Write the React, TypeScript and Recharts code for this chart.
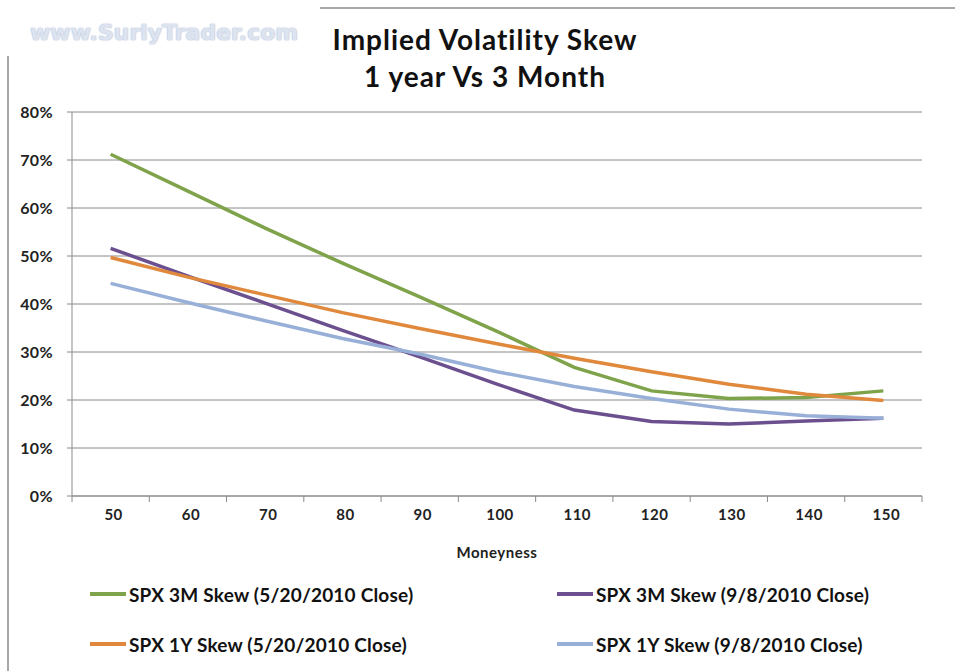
import React from "react";
import { LineChart, Line, XAxis, YAxis, CartesianGrid, Legend, Label } from "recharts";

const moneyness = [50, 60, 70, 80, 90, 100, 110, 120, 130, 140, 150];
const spx3mMay = [71.2, 63.5, 55.8, 48.5, 41.5, 34.3, 26.8, 21.9, 20.3, 20.5, 21.9];
const spx3mSep = [51.6, 45.8, 40.2, 34.5, 29.0, 23.3, 17.9, 15.5, 15.0, 15.6, 16.2];
const spx1yMay = [49.7, 45.6, 41.9, 38.2, 34.9, 31.7, 28.7, 25.9, 23.3, 21.2, 19.9];
const spx1ySep = [44.3, 40.3, 36.5, 32.8, 29.6, 25.9, 22.8, 20.3, 18.1, 16.7, 16.2];
const yTicks = [0, 10, 20, 30, 40, 50, 60, 70, 80];

const seriesNames = [
  "SPX 3M Skew (5/20/2010 Close)",
  "SPX 3M Skew (9/8/2010 Close)",
  "SPX 1Y Skew (5/20/2010 Close)",
  "SPX 1Y Skew (9/8/2010 Close)",
];
const seriesColors = ["#7fa34a", "#6b4f8f", "#e0893d", "#98b0d8"];

const data = moneyness.map((m, i) => ({
  m,
  a: spx3mMay[i],
  b: spx3mSep[i],
  c: spx1yMay[i],
  d: spx1ySep[i],
}));

const FONT = "Lato, 'Open Sans', sans-serif";
const AXIS = "#8a8a8a";
const HALF = 38.64;

const XTick = (props: any) => {
  const { x, y, payload, index } = props;
  const isLast = index === moneyness.length - 1;
  return (
    <g>
      <line x1={x - HALF} y1={496} x2={x - HALF} y2={502} stroke={AXIS} strokeWidth={1} />
      {isLast && <line x1={x + HALF} y1={496} x2={x + HALF} y2={502} stroke={AXIS} strokeWidth={1} />}
      <text
        x={x + 3}
        y={y + 16}
        textAnchor="middle"
        fontFamily={FONT}
        fontWeight={700}
        fontSize={15}
        letterSpacing={0.5}
        fill="#222"
      >
        {payload.value}
      </text>
    </g>
  );
};

const LegendContent = () => {
  const pos = [
    { left: 90, top: 584 },
    { left: 557, top: 584 },
    { left: 90, top: 634 },
    { left: 557, top: 634 },
  ];
  return (
    <div style={{ position: "relative", width: 955, height: 100 }}>
      {seriesNames.map((n, i) => (
        <div
          key={n}
          style={{
            position: "absolute",
            left: pos[i].left,
            top: pos[i].top - 570,
            height: 20,
            display: "flex",
            alignItems: "center",
            fontFamily: FONT,
            fontWeight: 700,
            fontSize: 19,
            letterSpacing: 0.2,
            color: "#111",
            whiteSpace: "nowrap",
          }}
        >
          <span style={{ display: "inline-block", width: 36, height: 4, background: seriesColors[i], marginRight: 3 }} />
          {n}
        </div>
      ))}
    </div>
  );
};

export default function App() {
  return (
    <div style={{ position: "absolute", left: 0, top: 0, width: 955, height: 671, background: "#fff", overflow: "hidden" }}>
      <div style={{ position: "absolute", left: 320, top: 7, width: 635, height: 2, background: "#a8a8a8" }} />
      <div style={{ position: "absolute", left: 7, top: 56, width: 2, height: 615, background: "#a8a8a8" }} />
      <div
        style={{
          position: "absolute",
          left: 30,
          top: 20,
          fontFamily: "'DejaVu Sans', sans-serif",
          fontWeight: 700,
          fontSize: 22,
          color: "#dde4f0",
          textShadow: "0 0 2px #b8c4dc, 0 0 1px #aab8d4",
          letterSpacing: 0,
        }}
      >
        www.SurlyTrader.com
      </div>
      <div
        style={{
          position: "absolute",
          left: 285,
          top: 21,
          width: 400,
          textAlign: "center",
          fontFamily: FONT,
          fontWeight: 700,
          fontSize: 28,
          letterSpacing: 1,
          lineHeight: "37px",
          color: "#111",
        }}
      >
        <div>Implied Volatility Skew</div>
        <div>1 year Vs 3 Month</div>
      </div>
      <div style={{ position: "absolute", left: 0, top: 0 }}>
        <LineChart width={955} height={671} data={data} margin={{ top: 112, right: 33, bottom: 145, left: 12 }}>
          <CartesianGrid vertical={false} stroke={AXIS} strokeWidth={1} strokeDasharray="" />
          <XAxis
            dataKey="m"
            type="category"
            padding={{ left: HALF, right: HALF }}
            axisLine={{ stroke: AXIS }}
            tickLine={false}
            tick={<XTick />}
            height={30}
            interval={0}
          >
            <Label
              value="Moneyness"
              position="bottom"
              offset={21}
              style={{ fontFamily: FONT, fontWeight: 700, fontSize: 15, letterSpacing: 0.5, fill: "#222" }}
            />
          </XAxis>
          <YAxis
            width={60}
            domain={[0, 80]}
            ticks={yTicks}
            tickFormatter={(v: number) => `${v}%`}
            axisLine={{ stroke: AXIS }}
            tickLine={{ stroke: AXIS }}
            tickSize={5}
            tickMargin={14}
            tick={{ fontFamily: FONT, fontWeight: 700, fontSize: 16, letterSpacing: 0.4, fill: "#222" }}
            interval={0}
          />
          <Line dataKey="a" name={seriesNames[0]} stroke={seriesColors[0]} strokeWidth={3.5} dot={false} isAnimationActive={false} />
          <Line dataKey="b" name={seriesNames[1]} stroke={seriesColors[1]} strokeWidth={3.5} dot={false} isAnimationActive={false} />
          <Line dataKey="c" name={seriesNames[2]} stroke={seriesColors[2]} strokeWidth={3.5} dot={false} isAnimationActive={false} />
          <Line dataKey="d" name={seriesNames[3]} stroke={seriesColors[3]} strokeWidth={3.5} dot={false} isAnimationActive={false} />
          <Legend
            layout="horizontal"
            verticalAlign="middle"
            align="center"
            content={<LegendContent />}
            wrapperStyle={{ position: "absolute", left: 0, top: 570, width: 955, height: 100 }}
          />
        </LineChart>
      </div>
    </div>
  );
}
